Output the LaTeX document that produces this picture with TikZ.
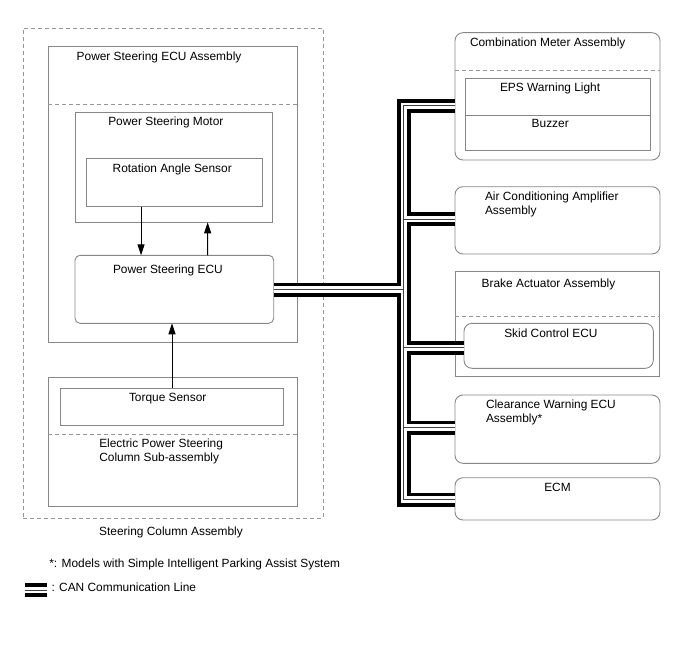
\documentclass[tikz,border=0pt]{standalone}
\usepackage{fontspec}
\setmainfont{Liberation Sans}
\usetikzlibrary{arrows.meta,calc}
\definecolor{bx}{RGB}{135,135,135}
\definecolor{dsh}{RGB}{150,150,150}
\begin{document}
\begin{tikzpicture}[x=1pt,y=-1pt,
  box/.style={draw=bx, line width=0.9pt, inner sep=0pt, outer sep=0pt, anchor=north west},
  rbox/.style={box, rounded corners=8pt},
  dbox/.style={box, draw=dsh, dash pattern=on 4pt off 3pt},
  divline/.style={draw=dsh, line width=0.9pt, dash pattern=on 4pt off 3pt},
  solidline/.style={draw=bx, line width=0.9pt},
  txt/.style={inner sep=0pt, outer sep=0pt, font=\fontsize{11.9}{14.3}\selectfont, text=black},
  arr/.style={black, line width=1pt, -{Triangle[length=11pt,width=7pt]}},
  canouter/.style={line width=14pt, black, line join=miter},
  caninner/.style={line width=6.3pt, white, line join=miter},
  cancenter/.style={line width=0.9pt, black!75, line join=miter},
]
\useasboundingbox (0,0) rectangle (688,658);

% ---------- left side ----------
\node[dbox, minimum width=300pt, minimum height=490pt] (sca) at (23,28) {};
\node[box, minimum width=249pt, minimum height=295.3pt] (psa) at (48,46.7) {};
\draw[divline] (psa.west |- 0,104) -- (psa.east |- 0,104);
\node[box, minimum width=197pt, minimum height=110.3pt] (psm) at (75.3,112) {};
\node[box, minimum width=176.7pt, minimum height=48.4pt] (ras) at (86,158.3) {};
\node[box, rounded corners=5pt, minimum width=198.7pt, minimum height=68pt] (pse) at (75,255.3) {};
\node[box, minimum width=249.3pt, minimum height=129.4pt] (epsc) at (48,377.3) {};
\draw[divline] (epsc.west |- 0,434.3) -- (epsc.east |- 0,434.3);
\node[box, minimum width=222.6pt, minimum height=36.7pt] (tq) at (60.7,388.3) {};

\node[txt, anchor=base west] (tpsa) at (76.7,60.5) {Power Steering ECU Assembly};
\node[txt, anchor=base west] (tpsm) at (108.3,126) {Power Steering Motor};
\node[txt, anchor=base west] (tras) at (112.7,172.5) {Rotation Angle Sensor};
\node[txt, anchor=base west] (tpse) at (113,273.5) {Power Steering ECU};
\node[txt, anchor=base west] (ttq) at (129,401) {Torque Sensor};
\node[txt, anchor=north west, align=left] (tepsc) at (99.3,438.8) {Electric Power Steering\\Column Sub-assembly};
\node[txt, anchor=base] (tsca) at (171,535.5) {Steering Column Assembly};

\draw[arr] ([xshift=-33.3pt]ras.south) -- ([xshift=-33.3pt]pse.north);
\draw[arr] ([xshift=33.3pt]pse.north) -- ([xshift=33.9pt]psm.south);
\draw[arr] (tq.north) -- (pse.south -| tq.north);

% ---------- right side ----------
\node[rbox, minimum width=205pt, minimum height=127.3pt] (cma) at (455,32.7) {};
\draw[divline] (cma.west |- 0,70) -- (cma.east |- 0,70);
\node[box, minimum width=185pt, minimum height=72.4pt] (lamp) at (465,78.3) {};
\draw[solidline] (lamp.west |- 0,115) -- (lamp.east |- 0,115);
\node[rbox, minimum width=205pt, minimum height=67.3pt] (aca) at (455,186.7) {};
\node[box, minimum width=204.5pt, minimum height=104.3pt] (baa) at (455,271.7) {};
\draw[divline] (baa.west |- 0,316.7) -- (baa.east |- 0,316.7);
\node[rbox, minimum width=189.3pt, minimum height=45pt] (sce) at (464,323.3) {};
\node[rbox, minimum width=205pt, minimum height=68.3pt] (cwe) at (455,395) {};
\node[rbox, minimum width=205pt, minimum height=42.3pt] (ecm) at (455,477.7) {};

\node[txt, anchor=base west] (tcma) at (470,46.8) {Combination Meter Assembly};
\node[txt, anchor=base west] (teps) at (500,92) {EPS Warning Light};
\node[txt, anchor=base west] (tbz) at (531.7,128) {Buzzer};
\node[txt, anchor=north west, align=left] (taca) at (485,191.5) {Air Conditioning Amplifier\\Assembly};
\node[txt, anchor=base west] (tbaa) at (481.7,287) {Brake Actuator Assembly};
\node[txt, anchor=base west] (tsce) at (504.3,337.5) {Skid Control ECU};
\node[txt, anchor=north west, align=left] (tcwe) at (486,399.5) {Clearance Warning ECU\\Assembly*};
\node[txt, anchor=base] (tecm) at (557.5,491.5) {ECM};

% ---------- CAN bus ----------
\coordinate (jt) at (403.7,105.7);
\coordinate (jb) at (403.7,499.5);
\coordinate (jac) at (403.7,219);
\coordinate (jps) at (403.7,289.5);
\coordinate (jsk) at (403.7,347.7);
\coordinate (jcw) at (403.7,427.5);
\coordinate (lga) at (25,590);
\coordinate (lgb) at (47,590);
\foreach \st in {canouter,caninner,cancenter}{
  \draw[\st] (cma.west |- jt) -- (jt) -- (jb) -- (ecm.west |- jb);
  \draw[\st] (jac) -- (aca.west |- jac);
  \draw[\st] (jsk) -- (sce.west |- jsk);
  \draw[\st] (jcw) -- (cwe.west |- jcw);
  \draw[\st] (pse.east |- jps) -- (jps);
  \draw[\st] (lga) -- (lgb);
}

% ---------- legend ----------
\node[txt, anchor=base west] (tnote) at (49.3,567) {*: Models with Simple Intelligent Parking Assist System};
\node[txt, anchor=base west] (tcan) at (51.5,591) {: CAN Communication Line};
\end{tikzpicture}
\end{document}
